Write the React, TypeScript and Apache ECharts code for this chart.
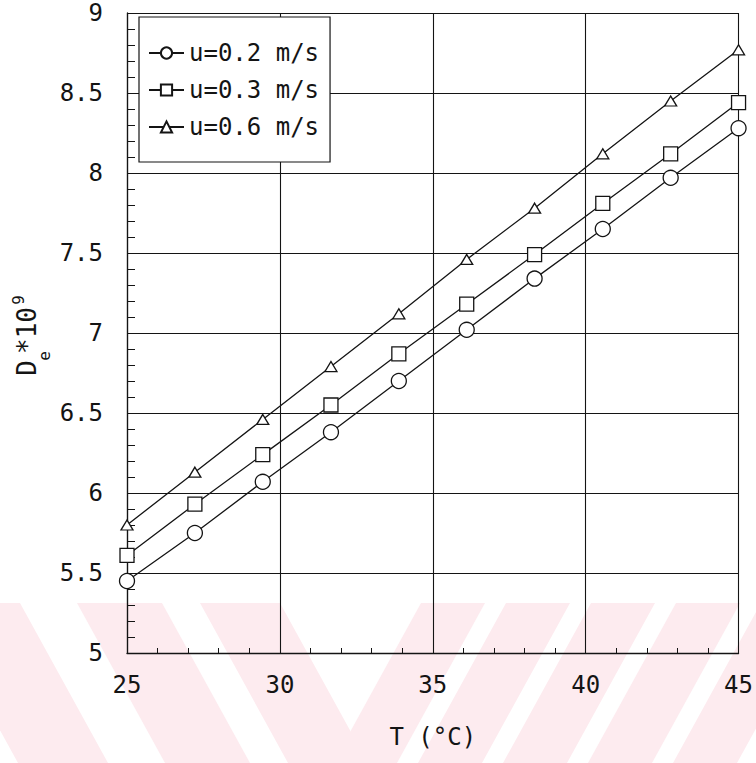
import React, { useEffect, useRef } from "react";
import * as echarts from "echarts";

// ---- data ----
const temperatures = [25, 27.22, 29.44, 31.67, 33.89, 36.11, 38.33, 40.56, 42.78, 45];
const seriesNames = ["u=0.2 m/s", "u=0.3 m/s", "u=0.6 m/s"];
const deU02 = [5.45, 5.75, 6.07, 6.38, 6.7, 7.02, 7.34, 7.65, 7.97, 8.28];
const deU03 = [5.61, 5.93, 6.24, 6.55, 6.87, 7.18, 7.49, 7.81, 8.12, 8.44];
const deU06 = [5.8, 6.13, 6.46, 6.79, 7.12, 7.46, 7.78, 8.12, 8.45, 8.77];
const xAxisTitle = "T (°C)";

const FONT = "'DejaVu Sans Mono', 'Liberation Mono', monospace";
const INK = "#141414";
const PINK = "#fdebef";

function watermark() {
  const els: any[] = [];
  const top = 603;
  const bottom = 763;
  const h = bottom - top;
  // "\" stripes on the left
  [
    [-70, 90],
    [77, 85],
    [200, 80],
  ].forEach(([t0, w]) => {
    const s = 0.55;
    els.push({
      type: "polygon",
      z: -100,
      silent: true,
      shape: { points: [[t0, top], [t0 + w, top], [t0 + w + s * h, bottom], [t0 + s * h, bottom]] },
      style: { fill: PINK },
    });
  });
  // "/" stripes on the right
  [333, 418, 503, 588, 673, 758].forEach((b0) => {
    const s = 0.55;
    const w = 64;
    els.push({
      type: "polygon",
      z: -100,
      silent: true,
      shape: { points: [[b0, bottom], [b0 + w, bottom], [b0 + w + s * h, top], [b0 + s * h, top]] },
      style: { fill: PINK },
    });
  });
  return els;
}

function yTitle() {
  const t = (text: string, x: number, y: number, size: number, align = "center") => ({
    type: "text",
    x,
    y,
    style: {
      text,
      fontSize: size,
      fontFamily: FONT,
      fill: INK,
      align,
      textAlign: align,
      verticalAlign: "middle",
      textVerticalAlign: "middle",
    },
  });
  return {
    type: "group",
    x: 27,
    y: 337,
    rotation: Math.PI / 2,
    children: [
      t("D", -31, 0, 26),
      t("e", -19, 17, 16),
      t("*10", -17, 0, 26, "left"),
      t("9", 37, -9, 16),
    ],
  };
}

export default function App() {
  const ref = useRef<HTMLDivElement>(null);

  useEffect(() => {
    if (!ref.current) return;
    const chart = echarts.init(ref.current, null, { renderer: "svg" });
    const symbols: any[] = [
      { symbol: "circle", size: 15 },
      { symbol: "rect", size: 14 },
      { symbol: "triangle", size: [12, 10] },
    ];
    const datasets = [deU02, deU03, deU06];

    const option: any = {
      animation: false,
      backgroundColor: "transparent",
      grid: { left: 127, right: 13, top: 13, bottom: 110, containLabel: false },
      legend: {
        orient: "vertical",
        left: 139,
        top: 17,
        padding: [24, 11, 23, 9],
        itemGap: 13,
        itemWidth: 35,
        itemHeight: 14,
        backgroundColor: "#ffffff",
        borderColor: INK,
        borderWidth: 1.2,
        borderRadius: 0,
        textStyle: { fontSize: 24, lineHeight: 24, fontFamily: FONT, color: INK, padding: [0, 0, 0, 0] },
        data: seriesNames,
      },
      xAxis: {
        type: "value",
        min: 25,
        max: 45,
        interval: 5,
        name: xAxisTitle,
        nameLocation: "middle",
        nameGap: 72,
        nameTextStyle: { fontSize: 24, fontFamily: FONT, color: INK },
        axisLine: { show: true, lineStyle: { color: INK, width: 1.3 } },
        axisTick: { show: true, inside: true, length: 6, lineStyle: { color: INK, width: 1 } },
        minorTick: { show: true, splitNumber: 5, length: 5, lineStyle: { color: INK, width: 1 } },
        splitLine: { show: true, lineStyle: { color: INK, width: 1.1 } },
        axisLabel: { fontSize: 24, fontFamily: FONT, color: INK, margin: 20 },
      },
      yAxis: {
        type: "value",
        min: 5,
        max: 9,
        interval: 0.5,
        axisLine: { show: true, lineStyle: { color: INK, width: 1.3 } },
        axisTick: { show: true, inside: true, length: 8, lineStyle: { color: INK, width: 1 } },
        minorTick: { show: true, splitNumber: 5, length: 8, lineStyle: { color: INK, width: 1 } },
        splitLine: { show: true, lineStyle: { color: INK, width: 1.1 } },
        axisLabel: { fontSize: 24, fontFamily: FONT, color: INK, margin: 24 },
      },
      graphic: [...watermark(), yTitle()],
      series: seriesNames.map((name, i) => ({
        name,
        type: "line",
        data: temperatures.map((t, j) => [t, datasets[i][j]]),
        symbol: symbols[i].symbol,
        symbolSize: symbols[i].size,
        showAllSymbol: true,
        lineStyle: { color: INK, width: 1.3 },
        itemStyle: { color: "#ffffff", borderColor: INK, borderWidth: 1.3 },
        z: 3,
      })),
    };
    chart.setOption(option);
    return () => chart.dispose();
  }, []);

  return (
    <div
      ref={ref}
      style={{ position: "fixed", left: 0, top: 0, width: 756, height: 763, background: "#ffffff" }}
    />
  );
}
